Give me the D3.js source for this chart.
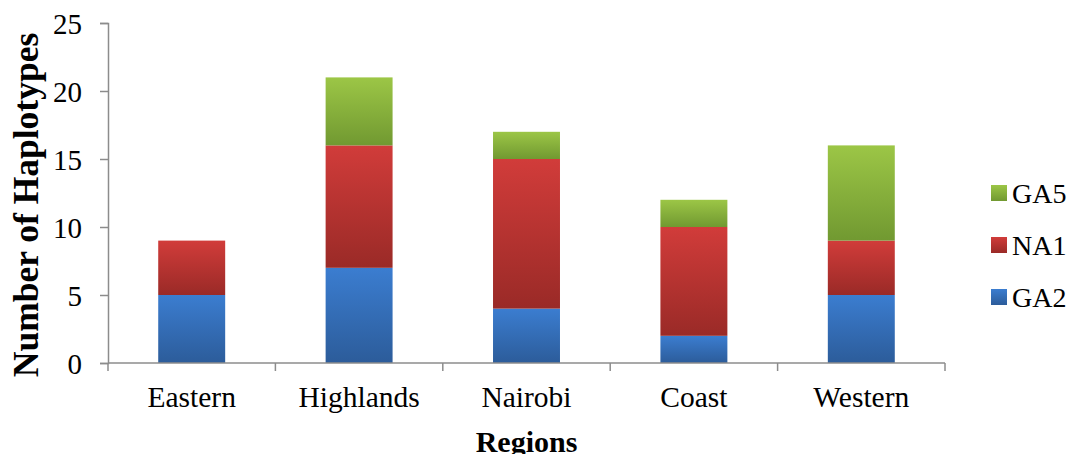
<!DOCTYPE html>
<html>
<head>
<meta charset="utf-8">
<script src="https://cdn.jsdelivr.net/npm/d3@7"></script>
<style>
  body { margin: 0; background: #fff; }
</style>
</head>
<body>
<div id="chart"></div>
<script>
// Haplotype counts per region
const regions = ["Eastern", "Highlands", "Nairobi", "Coast", "Western"];
const series = ["GA2", "NA1", "GA5"];
const ga2 = [5, 7, 4, 2, 5];
const na1 = [4, 9, 11, 8, 4];
const ga5 = [0, 5, 2, 2, 7];
const yTicks = [0, 5, 10, 15, 20, 25];

const colors = {
  GA2: ["#3b7dd0", "#2c5c9a"],
  NA1: ["#d13c3a", "#9a2a27"],
  GA5: ["#9cc646", "#719931"]
};

const FONT = "'Liberation Serif'";

const width = 1070, height = 454;
const margin = {top: 23, right: 125, bottom: 91, left: 108};

const svg = d3.select("#chart").append("svg")
    .attr("width", width)
    .attr("height", height);

// vertical gradients, light on top, dark at bottom
const defs = svg.append("defs");
series.forEach(function(s) {
  const g = defs.append("linearGradient")
      .attr("id", "grad-" + s)
      .attr("x1", 0).attr("y1", 0).attr("x2", 0).attr("y2", 1);
  g.append("stop").attr("offset", "0%").attr("stop-color", colors[s][0]);
  g.append("stop").attr("offset", "100%").attr("stop-color", colors[s][1]);
});

const x = d3.scaleBand()
    .domain(regions)
    .range([margin.left, width - margin.right])
    .paddingInner(0.6)
    .paddingOuter(0.3);

const y = d3.scaleLinear()
    .domain([0, 25])
    .range([height - margin.bottom, margin.top]);

const rows = regions.map(function(r, i) {
  return {region: r, GA2: ga2[i], NA1: na1[i], GA5: ga5[i]};
});
const stacked = d3.stack().keys(series)(rows);

svg.append("g")
  .selectAll("g")
  .data(stacked)
  .enter().append("g")
    .attr("fill", d => "url(#grad-" + d.key + ")")
  .selectAll("rect")
  .data(d => d.filter(p => p[1] > p[0]))
  .enter().append("rect")
    .attr("x", d => x(d.data.region))
    .attr("width", x.bandwidth())
    .attr("y", d => y(d[1]))
    .attr("height", d => y(d[0]) - y(d[1]));

// y axis
const yAxis = svg.append("g")
    .attr("transform", "translate(" + margin.left + ",0)")
    .call(d3.axisLeft(y).tickValues(yTicks).tickSize(8).tickPadding(18));
yAxis.selectAll("text")
    .style("font-family", FONT)
    .style("font-size", "29px")
    .attr("fill", "#000")
    .attr("dy", "0.36em");
yAxis.select(".domain").attr("stroke", "#8c8c8c").attr("stroke-width", 1.5);
yAxis.selectAll(".tick line").attr("stroke", "#8c8c8c").attr("stroke-width", 1.5);

// x axis with ticks on category boundaries
const x0 = margin.left, x1 = width - margin.right;
const xAxis = svg.append("g")
    .attr("transform", "translate(0," + y(0) + ")");
xAxis.append("line")
    .attr("x1", x0).attr("x2", x1)
    .attr("stroke", "#8c8c8c").attr("stroke-width", 1.5);
const step = (x1 - x0) / regions.length;
d3.range(regions.length + 1).forEach(function(i) {
  xAxis.append("line")
    .attr("x1", x0 + i * step).attr("x2", x0 + i * step)
    .attr("y1", 0).attr("y2", 8)
    .attr("stroke", "#8c8c8c").attr("stroke-width", 1.5);
});
xAxis.selectAll("text.cat")
  .data(regions)
  .enter().append("text")
    .attr("class", "cat")
    .attr("x", d => x(d) + x.bandwidth() / 2)
    .attr("y", 44)
    .attr("text-anchor", "middle")
    .style("font-family", FONT)
    .style("font-size", "29.5px")
    .text(d => d);

// axis titles
svg.append("text")
    .attr("transform", "translate(38,205) rotate(-90)")
    .attr("text-anchor", "middle")
    .style("font-family", FONT)
    .style("font-size", "35.5px")
    .style("font-weight", "bold")
    .text("Number of Haplotypes");

svg.append("text")
    .attr("x", (x0 + x1) / 2)
    .attr("y", 452)
    .attr("text-anchor", "middle")
    .style("font-family", FONT)
    .style("font-size", "30px")
    .style("font-weight", "bold")
    .text("Regions");

// legend, top entry is the top of the stack
const legend = svg.append("g")
    .attr("transform", "translate(991,185)");
const legendOrder = series.slice().reverse();
legend.selectAll("g")
  .data(legendOrder)
  .enter().append("g")
    .attr("transform", (d, i) => "translate(0," + i * 52 + ")")
  .each(function(d) {
    const g = d3.select(this);
    g.append("rect")
      .attr("width", 16).attr("height", 16)
      .attr("fill", "url(#grad-" + d + ")");
    g.append("text")
      .attr("x", 21).attr("y", 8)
      .attr("dy", "0.36em")
      .style("font-family", FONT)
      .style("font-size", "28px")
      .text(d);
  });
</script>
</body>
</html>
